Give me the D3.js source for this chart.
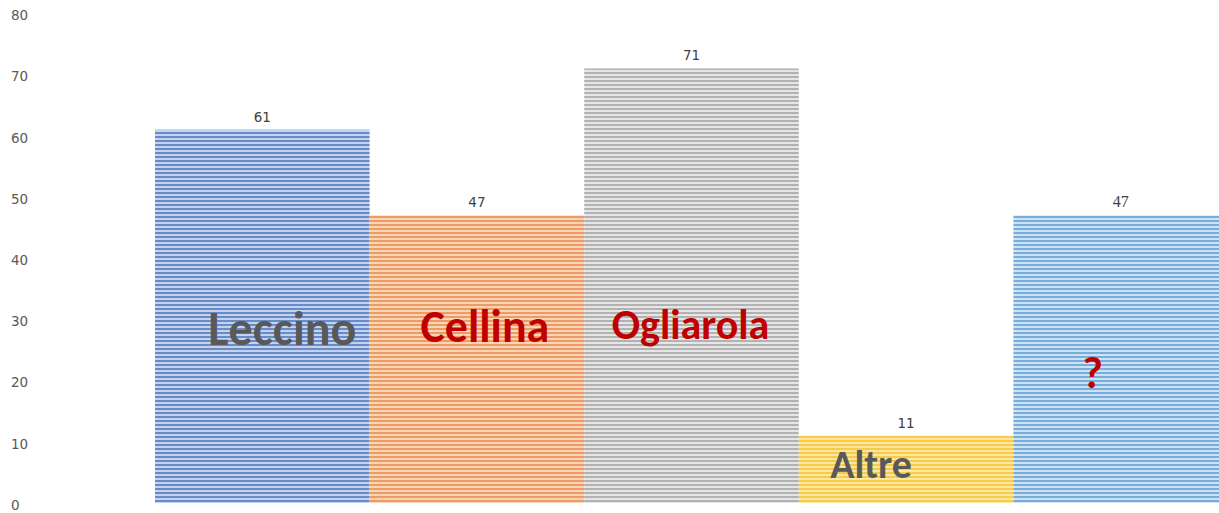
<!DOCTYPE html>
<html>
<head>
<meta charset="utf-8">
<script src="https://cdn.jsdelivr.net/npm/d3@7"></script>
<style>
  html, body { margin: 0; padding: 0; background: #fff; }
  svg { display: block; }
</style>
</head>
<body>
<svg id="chart" width="1219" height="513"></svg>
<script>
// Olive cultivars and counts
const categories = ["Leccino", "Cellina", "Ogliarola", "Altre", "?"];
const values = [61, 47, 71, 11, 47];
const yTicks = [0, 10, 20, 30, 40, 50, 60, 70, 80];

// Striped fills: [dark line, light line]
const stripes = [
  ["#6a8bca", "#c3d2ee"],
  ["#ee9a64", "#f9d5b8"],
  ["#b2b2b2", "#e6e6e6"],
  ["#f7cb4a", "#fde7a0"],
  ["#78acdb", "#cde3f5"]
];
// In-bar name labels: colour, size, center x offset, baseline
const nameStyle = [
  { fill: "#595959", size: 48, dx: 20,  y: 345 },
  { fill: "#c00000", size: 46, dx: 8,   y: 342 },
  { fill: "#c00000", size: 42, dx: -1,  y: 339 },
  { fill: "#595959", size: 40, dx: -35, y: 478 },
  { fill: "#c00000", size: 44, dx: -28, y: 388 }
];

const svg = d3.select("#chart");

const x = d3.scaleBand().domain(categories).range([155, 1228]).padding(0);
const y = d3.scaleLinear().domain([0, 80]).range([503, 13.4]);

const defs = svg.append("defs");
stripes.forEach((c, i) => {
  const p = defs.append("pattern")
    .attr("id", "stripe" + i)
    .attr("patternUnits", "userSpaceOnUse")
    .attr("width", 8).attr("height", 4);
  p.append("rect").attr("width", 8).attr("height", 4).attr("fill", c[1]);
  p.append("rect").attr("width", 8).attr("height", 2).attr("fill", c[0]);
});

// Y axis: labels only
const yAxis = d3.axisLeft(y).tickValues(yTicks).tickSize(0).tickPadding(0);
const gy = svg.append("g").attr("transform", "translate(11,2)").call(yAxis);
gy.select(".domain").remove();
gy.selectAll("text")
  .attr("text-anchor", "start")
  .attr("fill", "#595959")
  .style("font-family", "'DejaVu Sans', sans-serif")
  .style("font-size", "13.5px");

// Bars
svg.append("g").selectAll("rect")
  .data(categories)
  .join("rect")
  .attr("x", d => x(d))
  .attr("y", (d, i) => y(values[i]))
  .attr("width", x.bandwidth())
  .attr("height", (d, i) => y(0) - y(values[i]))
  .attr("fill", (d, i) => `url(#stripe${i})`);

// Value labels above bars
svg.append("g").selectAll("text")
  .data(categories)
  .join("text")
  .attr("x", d => x(d) + x.bandwidth() / 2)
  .attr("y", (d, i) => y(values[i]) - 8)
  .attr("text-anchor", "middle")
  .attr("fill", "#404040")
  .style("font-family", (d, i) => i === 4 ? "'Liberation Serif', serif" : "'DejaVu Sans', sans-serif")
  .style("font-size", (d, i) => i === 4 ? "16px" : "13.5px")
  .text((d, i) => values[i]);

// Cultivar names inside bars
svg.append("g").selectAll("text")
  .data(categories)
  .join("text")
  .attr("x", (d, i) => x(d) + x.bandwidth() / 2 + nameStyle[i].dx)
  .attr("y", (d, i) => nameStyle[i].y)
  .attr("text-anchor", "middle")
  .attr("fill", (d, i) => nameStyle[i].fill)
  .style("font-family", "Carlito, 'Open Sans', sans-serif")
  .style("font-weight", "bold")
  .style("font-size", (d, i) => nameStyle[i].size + "px")
  .text(d => d);
</script>
</body>
</html>
